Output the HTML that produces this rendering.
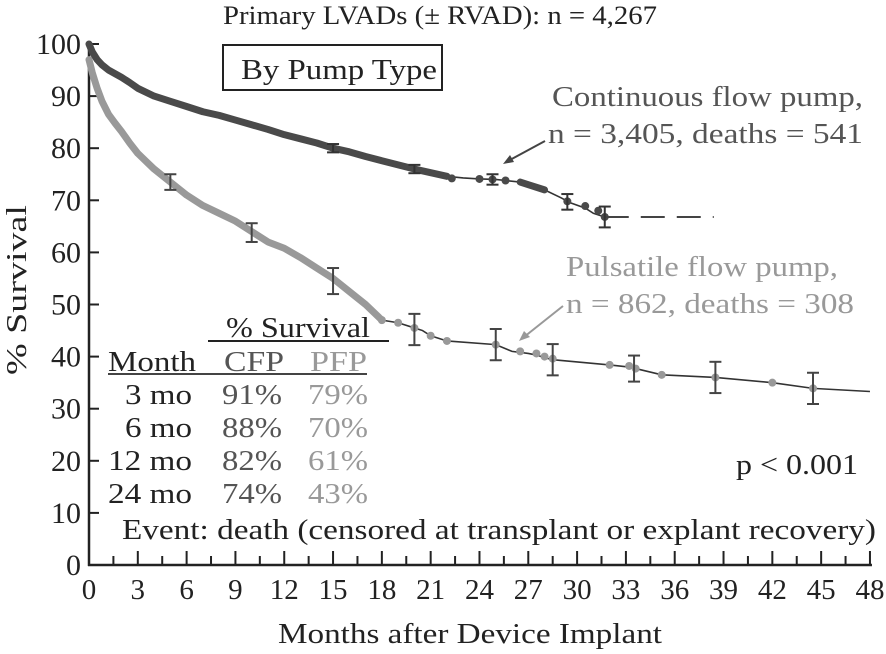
<!DOCTYPE html>
<html><head><meta charset="utf-8"><style>
html,body{margin:0;padding:0;background:#fff}
svg{display:block;font-family:"Liberation Serif",serif}
</style></head><body>
<svg id="chart" width="886" height="654" viewBox="0 0 886 654" xmlns="http://www.w3.org/2000/svg">
<text x="223" y="24" font-size="26" fill="#222" textLength="434" lengthAdjust="spacingAndGlyphs">Primary LVADs (± RVAD): n = 4,267</text>
<rect x="223" y="45" width="219" height="45" fill="none" stroke="#222" stroke-width="2"/>
<text x="241" y="79" font-size="28" fill="#222" textLength="196" lengthAdjust="spacingAndGlyphs">By Pump Type</text>
<g id="axes"></g>
<g id="marks"></g>
<text transform="translate(26,290) rotate(-90)" text-anchor="middle" font-size="28" fill="#222" textLength="170" lengthAdjust="spacingAndGlyphs">% Survival</text>
<text x="470" y="643" text-anchor="middle" font-size="28" fill="#222" textLength="384" lengthAdjust="spacingAndGlyphs">Months after Device Implant</text>
<text x="552" y="106" font-size="28" fill="#555" textLength="311" lengthAdjust="spacingAndGlyphs">Continuous flow pump,</text>
<text x="548" y="143" font-size="28" fill="#555" textLength="315" lengthAdjust="spacingAndGlyphs">n = 3,405, deaths = 541</text>
<line x1="545" y1="141" x2="508" y2="161" stroke="#444" stroke-width="2"/>
<polygon points="503,164 510,155 514,162" fill="#444"/>
<text x="566" y="276" font-size="28" fill="#999" textLength="272" lengthAdjust="spacingAndGlyphs">Pulsatile flow pump,</text>
<text x="566" y="313" font-size="28" fill="#999" textLength="288" lengthAdjust="spacingAndGlyphs">n = 862, deaths = 308</text>
<line x1="563" y1="306" x2="524" y2="337" stroke="#999" stroke-width="2"/>
<polygon points="519,341 524,331 530,337" fill="#999"/>
<g font-size="28">
<text x="226" y="337" fill="#222" textLength="144" lengthAdjust="spacingAndGlyphs">% Survival</text>
<line x1="208" y1="341" x2="389" y2="341" stroke="#222" stroke-width="2"/>
<text x="108" y="371" fill="#222" textLength="88" lengthAdjust="spacingAndGlyphs">Month</text>
<text x="224" y="371" fill="#555" textLength="60" lengthAdjust="spacingAndGlyphs">CFP</text>
<text x="310" y="371" fill="#999" textLength="57" lengthAdjust="spacingAndGlyphs">PFP</text>
<line x1="108" y1="374" x2="367" y2="374" stroke="#444" stroke-width="2"/>
<g id="rows"></g>
</g>
<text x="122" y="539" font-size="28" fill="#222" textLength="754" lengthAdjust="spacingAndGlyphs">Event: death (censored at transplant or explant recovery)</text>
<text x="736" y="474" font-size="28" fill="#222" textLength="122" lengthAdjust="spacingAndGlyphs">p &lt; 0.001</text>
</svg>
<script>
const xTicks=[0,3,6,9,12,15,18,21,24,27,30,33,36,39,42,45,48];
const yTicks=[0,10,20,30,40,50,60,70,80,90,100];
const cfpMonths=[0,0.2,0.5,0.8,1.2,1.6,2,2.5,3,4,5,6,7,8,9,10,11,12,13,14,15,16,17,18,19,20,21,22,23,24,25,25.6,26.5,27,28,29,29.6,30.5,31,31.7];
const cfpSurv=[100,98.5,97,96,95,94.3,93.6,92.6,91.5,90,89,88,87,86.3,85.4,84.5,83.6,82.6,81.8,81,80,79.3,78.4,77.6,76.8,76,75.3,74.6,74.3,74.1,74,73.8,73.5,73,72,70.5,69.5,68.5,67.5,66.8];
const cfpDenseEnd=22;
const cfpSparseDots=[[22.3,74.2],[24,74.1],[24.8,74],[25.6,73.8],[29.4,69.8],[30.5,68.9],[31.3,68],[31.7,66.8]];
const cfpDash=[31.7,38.4,66.8];
const cfpErr=[[15,80,0.8],[20,76,0.8],[24.8,74,1],[29.4,69.7,1.5],[31.7,66.8,2]];
const pfpMonths=[0,0.2,0.5,0.8,1.2,1.6,2,2.5,3,3.5,4,5,6,7,8,9,10,11,12,13,14,15,16,17,18];
const pfpSurv=[97,94.5,91.5,89,86.5,84.8,83.2,81,79,77.5,76,73.5,71,69,67.5,66,64,62,60.8,59,57,55,52.5,50,47];
const pfpSparse=[[18,47],[19,46.5],[20,45.5],[20.5,45],[21,44],[22,43],[25,42.3],[26,41],[27,40.6],[27.5,40.3],[28,39.8],[28.5,39.4],[32,38.4],[33.2,38],[33.6,37.7],[35.2,36.5],[38.5,36],[42,35],[44.5,33.9],[48,33.3]];
const pfpDots=[[18,47],[19,46.5],[20,45.5],[21,44],[22,43],[25,42.3],[26.5,41],[27.5,40.6],[28,40],[28.5,39.6],[32,38.4],[33.2,38.2],[33.6,37.7],[35.2,36.5],[38.5,36],[42,35],[44.5,33.9]];
const pfpErr=[[5,73.5,1.5],[10,63.8,1.8],[15,54.5,2.5],[20,45.2,3],[25,42.3,3],[28.5,39.4,3],[33.5,37.7,2.5],[38.5,36,3],[44.5,33.9,3]];
const tableMonths=["3 mo","6 mo","12 mo","24 mo"];
const tableCfp=["91%","88%","82%","74%"];
const tablePfp=["79%","70%","61%","43%"];

const NS="http://www.w3.org/2000/svg";
const X=m=>89+m*16.27;
const Y=v=>565-v*5.21;
function mk(tag,attrs,parent){const e=document.createElementNS(NS,tag);for(const k in attrs)e.setAttribute(k,attrs[k]);parent.appendChild(e);return e;}
const axes=document.getElementById('axes'),marks=document.getElementById('marks'),rows=document.getElementById('rows');
let e=mk('line',{x1:89,y1:Y(100),x2:89,y2:566,stroke:'#222','stroke-width':2.5},axes);


e=mk('line',{x1:88,y1:565,x2:X(48)+2,y2:565,stroke:'#222','stroke-width':2.5},axes);


yTicks.forEach(v=>{
 const t=mk('line',{x1:89,y1:Y(v),x2:99,y2:Y(v),stroke:'#222','stroke-width':2},axes);
 
 
 const l=mk('text',{x:81,y:Y(v)+10,'text-anchor':'end','font-size':30,fill:'#222'},axes);l.textContent=v;
 
 
});
for(let m=1.5;m<=48;m+=1.5){
 const major=xTicks.includes(m);
 const t=mk('line',{x1:X(m),y1:565,x2:X(m),y2:major?551:556,stroke:'#222','stroke-width':2},axes);
 
 
}
xTicks.forEach(m=>{
 const l=mk('text',{x:X(m),y:599,'text-anchor':'middle','font-size':29,fill:'#222'},axes);l.textContent=m;
 
 
});
function err(list,col,name){list.forEach(([m,v,d])=>{
 const g=mk('g',{stroke:col,'stroke-width':2},marks);
 
 
 mk('line',{x1:X(m),y1:Y(v+d),x2:X(m),y2:Y(v-d)},g);
 mk('line',{x1:X(m)-6,y1:Y(v+d),x2:X(m)+6,y2:Y(v+d)},g);
 mk('line',{x1:X(m)-6,y1:Y(v-d),x2:X(m)+6,y2:Y(v-d)},g);
});}
let pts=pfpMonths.map((m,i)=>X(m)+','+Y(pfpSurv[i])).join(' ');
e=mk('polyline',{points:pts,fill:'none',stroke:'#999','stroke-width':7,'stroke-linejoin':'round','stroke-linecap':'round'},marks);


e=mk('polyline',{points:pfpSparse.map(p=>X(p[0])+','+Y(p[1])).join(' '),fill:'none',stroke:'#333','stroke-width':1.6},marks);


pfpDots.forEach(p=>{const c=mk('circle',{cx:X(p[0]),cy:Y(p[1]),r:4,fill:'#999'},marks);
 
 });
err(pfpErr,'#444','pfp-error-bar');
const dense=[],all=[];
cfpMonths.forEach((m,i)=>{all.push(X(m)+','+Y(cfpSurv[i]));if(m<=cfpDenseEnd)dense.push(X(m)+','+Y(cfpSurv[i]));});
e=mk('polyline',{points:all.join(' '),fill:'none',stroke:'#333','stroke-width':1.6},marks);


e=mk('polyline',{points:dense.join(' '),fill:'none',stroke:'#4a4a4a','stroke-width':7,'stroke-linejoin':'round','stroke-linecap':'round'},marks);


e=mk('polyline',{points:cfpMonths.filter(m=>m>=26.5&&m<=28.5).map(m=>X(m)+','+Y(cfpSurv[cfpMonths.indexOf(m)])).join(' '),fill:'none',stroke:'#4a4a4a','stroke-width':7,'stroke-linecap':'round'},marks);


cfpSparseDots.forEach(p=>{const c=mk('circle',{cx:X(p[0]),cy:Y(p[1]),r:4,fill:'#4a4a4a'},marks);
 
 });
e=mk('line',{x1:X(cfpDash[0]),y1:Y(cfpDash[2]),x2:X(cfpDash[1]),y2:Y(cfpDash[2]),stroke:'#444','stroke-width':2,'stroke-dasharray':'24,12'},marks);


err(cfpErr,'#333','cfp-error-bar');
tableMonths.forEach((mo,i)=>{
 const y=404+i*33;
 const w=mo.length>4?84:67;
 let t=mk('text',{x:192-w,y:y,fill:'#222',textLength:w,lengthAdjust:'spacingAndGlyphs'},rows);t.textContent=mo;
 
 
 t=mk('text',{x:222,y:y,fill:'#555',textLength:60,lengthAdjust:'spacingAndGlyphs'},rows);t.textContent=tableCfp[i];
 
 
 t=mk('text',{x:308,y:y,fill:'#999',textLength:60,lengthAdjust:'spacingAndGlyphs'},rows);t.textContent=tablePfp[i];
 
 
});
</script>
</body></html>
